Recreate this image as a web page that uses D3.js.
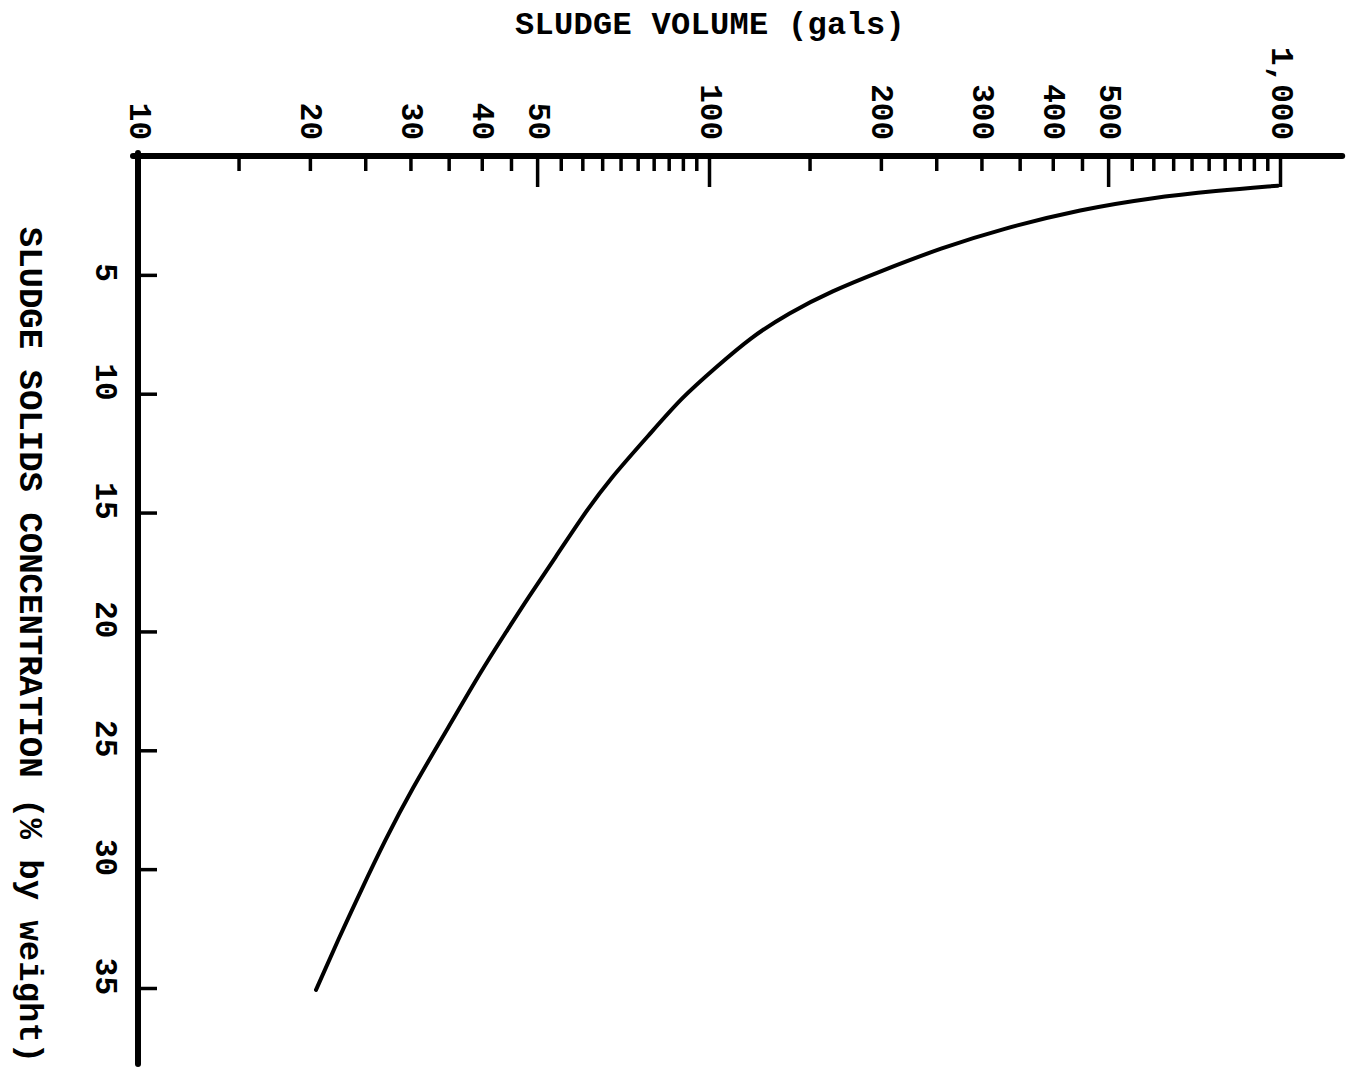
<!DOCTYPE html>
<html>
<head>
<meta charset="utf-8">
<script src="https://cdn.jsdelivr.net/npm/d3@7"></script>
<style>
  body { margin: 0; background: #fff; }
  text { font-family: "Liberation Mono", "Courier New", monospace; font-weight: bold; fill: #000; }
</style>
</head>
<body>
<div id="chart"></div>
<script>
// Curve: sludge solids (% by weight) vs sludge volume (gals)
const concentration = [1.25, 1.46, 1.77, 2.23, 3.07, 3.87, 4.84, 5.68, 6.6, 7.65, 8.88, 10.14, 11.74,
  13.63, 15.19, 16.87, 18.55, 20.07, 21.62, 24.02, 26.67, 28.77, 30.88, 32.98, 35.08];
const volume = [992, 775, 591, 451, 325, 255, 200, 164, 138, 118, 103, 89.7, 78.5,
  66.8, 59.9, 53.9, 48.3, 44.0, 40.0, 35.0, 30.1, 27.1, 24.6, 22.4, 20.5];

// Tick values
const volumeLabels = [10, 20, 30, 40, 50, 100, 200, 300, 400, 500, 1000];
const volumeMajorTicks = [50, 100, 500, 1000];
const volumeMinorTicks = [15, 20, 25, 30, 35, 40, 45, 55, 60, 65, 70, 75, 80, 85, 90, 95,
  150, 200, 250, 300, 350, 400, 450, 550, 600, 650, 700, 750, 800, 850, 900, 950];
const concTicks = [5, 10, 15, 20, 25, 30, 35];

// Axis extents (data units)
const volumeDomain = [10, 1000], volumeAxisEnd = 1285;
const concDomain = [0, 35], concAxisEnd = 38.2;

const margin = {top: 156, left: 138},
      fullW = 1349, fullH = 1070;

const svg = d3.select("#chart").append("svg")
  .attr("width", fullW)
  .attr("height", fullH)
  .append("g")
  .attr("transform", `translate(${margin.left},${margin.top})`);

// scales
const x = d3.scaleLog().domain(volumeDomain).range([0, 1142]);
const y = d3.scaleLinear().domain(concDomain).range([0, 832]);

// top (volume) axis: ticks hang down into the plot
const xAxis = svg.append("g")
  .call(d3.axisBottom(x).tickValues(volumeMinorTicks.concat(volumeMajorTicks)).tickFormat("").tickSizeOuter(0));
xAxis.select(".domain").remove();
xAxis.selectAll(".tick line")
  .attr("y2", d => volumeMajorTicks.includes(d) ? 31 : 15)
  .attr("stroke", "#000")
  .attr("stroke-width", 3.5);

svg.append("line")
  .attr("x1", x(volumeDomain[0]) - 5)
  .attr("x2", x(volumeAxisEnd))
  .attr("y1", y(0)).attr("y2", y(0))
  .attr("stroke", "#000")
  .attr("stroke-width", 6)
  .attr("stroke-linecap", "round");

// left (concentration) axis: ticks point right
const yAxis = svg.append("g")
  .call(d3.axisRight(y).tickValues(concTicks).tickFormat("").tickSize(19).tickSizeOuter(0));
yAxis.select(".domain").remove();
yAxis.selectAll(".tick line")
  .attr("stroke", "#000")
  .attr("stroke-width", 3.5);

svg.append("line")
  .attr("x1", x(volumeDomain[0])).attr("x2", x(volumeDomain[0]))
  .attr("y1", y(0) - 3)
  .attr("y2", y(concAxisEnd))
  .attr("stroke", "#000")
  .attr("stroke-width", 6)
  .attr("stroke-linecap", "round");

// tick labels, rotated to read top to bottom
const fmt = d3.format(",");
svg.selectAll(".xlab")
  .data(volumeLabels)
  .enter()
  .append("text")
  .attr("class", "xlab")
  .attr("transform", d => `translate(${x(d)},${-16}) rotate(90)`)
  .attr("text-anchor", "end")
  .attr("dominant-baseline", "central")
  .style("font-size", "31px")
  .text(d => fmt(d));

svg.selectAll(".ylab")
  .data(concTicks)
  .enter()
  .append("text")
  .attr("class", "ylab")
  .attr("transform", d => `translate(${-34},${y(d) + 7}) rotate(90)`)
  .attr("text-anchor", "end")
  .attr("dominant-baseline", "central")
  .style("font-size", "31px")
  .text(d => d);

// axis titles
svg.append("text")
  .attr("x", 572)
  .attr("y", -122)
  .attr("text-anchor", "middle")
  .style("font-size", "32px")
  .style("letter-spacing", "0.3px")
  .text("SLUDGE VOLUME (gals)");

svg.append("text")
  .attr("transform", `translate(${-109},${489}) rotate(90)`)
  .attr("text-anchor", "middle")
  .attr("dominant-baseline", "central")
  .style("font-size", "34px")
  .text("SLUDGE SOLIDS CONCENTRATION (% by weight)");

// the curve
const points = concentration.map((c, i) => ({c: c, v: volume[i]}));
const line = d3.line()
  .x(d => x(d.v))
  .y(d => y(d.c))
  .curve(d3.curveBasis);

svg.append("path")
  .datum(points)
  .attr("fill", "none")
  .attr("stroke", "#000")
  .attr("stroke-width", 4)
  .attr("stroke-linecap", "round")
  .attr("d", line);
</script>
</body>
</html>
